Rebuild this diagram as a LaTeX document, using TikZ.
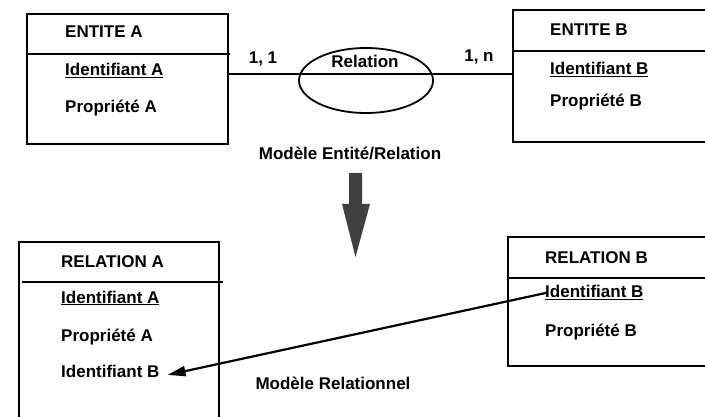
\documentclass[tikz,border=0pt]{standalone}
\usepackage{fontspec}
\setmainfont{Liberation Sans}
\usetikzlibrary{shapes.geometric,arrows.meta}
\definecolor{bigarrow}{HTML}{404040}
\begin{document}
\begin{tikzpicture}[x=1pt,y=-1pt,
  box/.style={draw, line width=2.4pt, rectangle, inner sep=0pt},
  sep/.style={line width=2.4pt},
  txt/.style={anchor=base west, inner sep=0pt, font=\fontsize{17}{20}\selectfont\bfseries},
  ctxt/.style={anchor=base, inner sep=0pt, font=\fontsize{17}{20}\selectfont\bfseries}]
\useasboundingbox (0,0) rectangle (705,417);
\clip (0,0) rectangle (705,417);
% Entity boxes
\node[box, minimum width=201pt, minimum height=130pt] (ea) at (127.5,79) {};
\node[box, minimum width=217pt, minimum height=132pt] (eb) at (621.5,76) {};
\draw[sep] (ea.west |- 0,54) -- (230,54);
\draw[sep] (eb.west |- 0,51) -- (720,51);
% Relation boxes
\node[box, minimum width=200pt, minimum height=198pt] (ra) at (119,341) {};
\node[box, minimum width=222pt, minimum height=129pt] (rb) at (619,301.5) {};
\draw[sep] (22,282) -- (223,282);
\draw[sep] (rb.west |- 0,278) -- (720,278);
% Texts entity A
\node[txt] (eat) at (65,38) {ENTITE A};
\node[txt] (eaid) at (65,76) {\underline{Identifiant A}};
\node[txt] (eapr) at (65,113) {Propriété A};
% Texts entity B
\node[txt] (ebt) at (550,36) {ENTITE B};
\node[txt] (ebid) at (550,75) {\underline{Identifiant B}};
\node[txt] (ebpr) at (550,107) {Propriété B};
% Association
\node[draw, ellipse, line width=1.8pt, minimum width=134pt, minimum height=65pt, inner sep=0pt] (rel) at (366,80.5) {};
\draw[line width=2.4pt] ([yshift=5pt]ea.east) -- ([yshift=2pt]eb.west);
\node[ctxt] (relt) at (365,68) {Relation};
\node[ctxt] (c1) at (263,64) {1, 1};
\node[ctxt] (c2) at (479,62) {1, n};
% Model labels
\node[ctxt] (mer) at (350,160) {Modèle Entité/Relation};
\node[ctxt] (mr) at (333,389) {Modèle Relationnel};
% Big arrow
\fill[bigarrow] (349,173) -- (362,173) -- (362,204) -- (370,204) -- (355.5,257) -- (342,204) -- (349,204) -- cycle;
% Texts relation A
\node[txt] (rat) at (61,268) {RELATION A};
\node[txt] (raid) at (61,303) {\underline{Identifiant A}};
\node[txt] (rapr) at (61,341) {Propriété A};
\node[txt] (raidb) at (61,377) {Identifiant B};
% Texts relation B
\node[txt] (rbt) at (545,263) {RELATION B};
\node[txt] (rbid) at (545,298) {\underline{Identifiant B}};
\node[txt] (rbpr) at (545,336) {Propriété B};
% Foreign key arrow
\draw[line width=2.2pt, -{Triangle[length=18pt,width=10pt]}] ([xshift=1pt]rbid.west) -- ([xshift=8pt,yshift=-4pt]raidb.east);
\end{tikzpicture}
\end{document}
